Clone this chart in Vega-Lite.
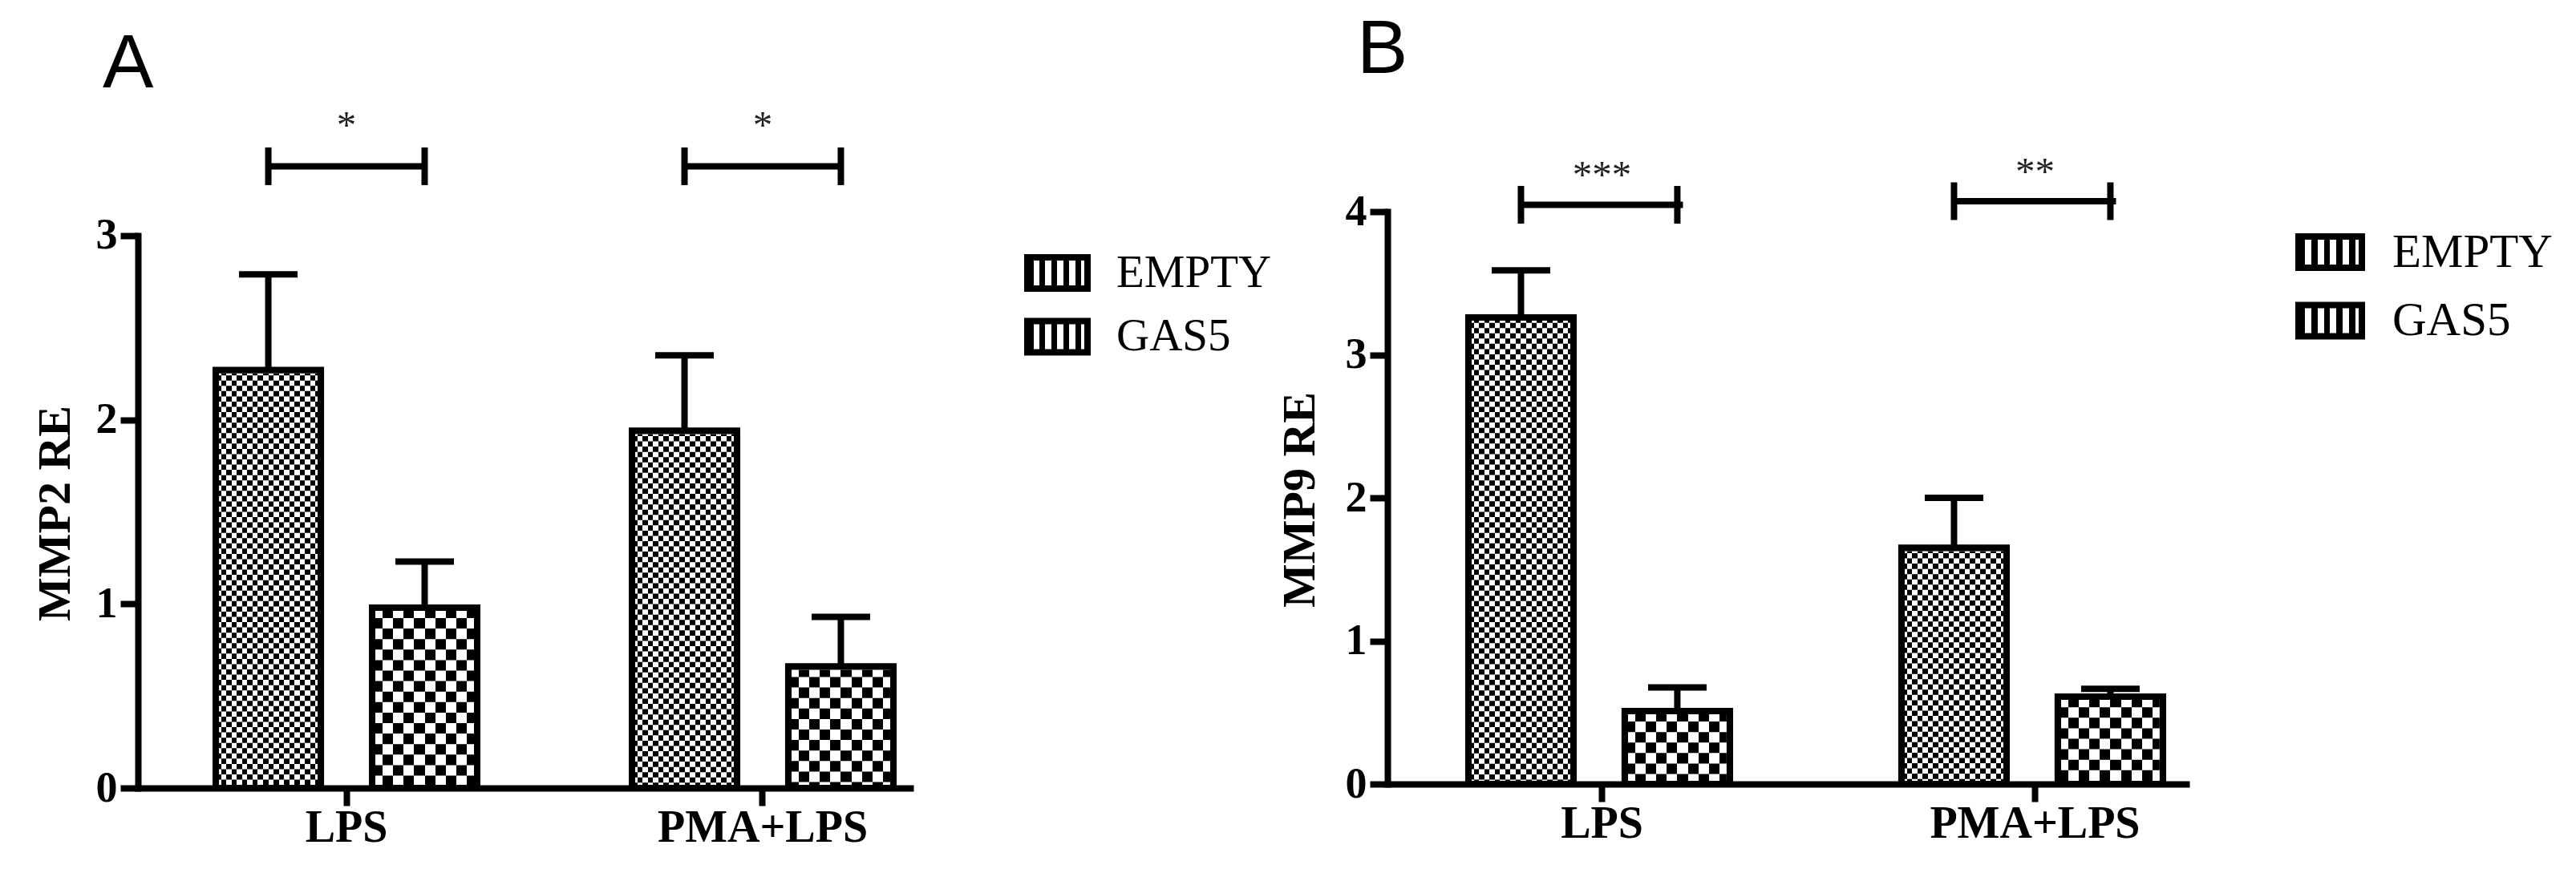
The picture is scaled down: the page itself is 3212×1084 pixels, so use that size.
{
  "$schema": "https://vega.github.io/schema/vega-lite/v6.json",
  "autosize": {"type": "none"},
  "padding": {"left": 172, "top": 264, "right": 3040, "bottom": 820},
  "background": "white",
  "bounds": "flush",
  "spacing": 591,
  "resolve": {"scale": {"stroke": "independent"}, "legend": {"stroke": "independent"}},
  "datasets": {
    "barsA": [
      {"cond": "LPS", "group": "EMPTY", "mean": 2.27, "upper": 2.79},
      {"cond": "LPS", "group": "GAS5", "mean": 0.98, "upper": 1.23},
      {"cond": "PMA+LPS", "group": "EMPTY", "mean": 1.94, "upper": 2.35},
      {"cond": "PMA+LPS", "group": "GAS5", "mean": 0.66, "upper": 0.93}
    ],
    "sigA": [
      {"cond": "LPS", "level": 3.377, "label": "*"},
      {"cond": "PMA+LPS", "level": 3.377, "label": "*"}
    ],
    "endsA": [
      {"cond": "LPS", "group": "EMPTY", "level": 3.377},
      {"cond": "LPS", "group": "GAS5", "level": 3.377},
      {"cond": "PMA+LPS", "group": "EMPTY", "level": 3.377},
      {"cond": "PMA+LPS", "group": "GAS5", "level": 3.377}
    ],
    "barsB": [
      {"cond": "LPS", "group": "EMPTY", "mean": 3.26, "upper": 3.59},
      {"cond": "LPS", "group": "GAS5", "mean": 0.51, "upper": 0.675},
      {"cond": "PMA+LPS", "group": "EMPTY", "mean": 1.65, "upper": 2.0},
      {"cond": "PMA+LPS", "group": "GAS5", "mean": 0.61, "upper": 0.665}
    ],
    "sigB": [
      {"cond": "LPS", "level": 4.048, "label": "***"},
      {"cond": "PMA+LPS", "level": 4.073, "label": "**"}
    ],
    "endsB": [
      {"cond": "LPS", "group": "EMPTY", "level": 4.048},
      {"cond": "LPS", "group": "GAS5", "level": 4.048},
      {"cond": "PMA+LPS", "group": "EMPTY", "level": 4.073},
      {"cond": "PMA+LPS", "group": "GAS5", "level": 4.073}
    ]
  },
  "hconcat": [
    {
      "width": 967,
      "height": 719,
      "title": {"text": "A", "anchor": "start", "frame": "group", "font": "Liberation Sans", "fontSize": 95, "fontWeight": "normal", "color": "black", "dx": -44, "offset": 4.5},
      "layer": [
        {
          "data": {"name": "barsA"},
          "mark": {"type": "bar", "strokeWidth": 8},
          "encoding": {
            "x": {"field": "cond", "type": "nominal", "title": null, "sort": ["LPS", "PMA+LPS"], "scale": {"domain": ["LPS", "PMA+LPS"], "paddingInner": 0.3719, "paddingOuter": 0.1176, "align": 0.795}, "axis": {"labelAngle": 0, "labelLimit": 0}},
            "xOffset": {"field": "group", "type": "nominal", "scale": {"domain": ["EMPTY", "GAS5"], "paddingInner": 0.328, "paddingOuter": 0}},
            "y": {"field": "mean", "type": "quantitative", "title": "MMP2 RE", "scale": {"domain": [0, 3.1306], "nice": false, "zero": true}, "axis": {"values": [0, 1, 2, 3], "format": "d", "domainDash": [689, 200], "titleX": -85.5, "titleY": 376}},
            "fill": {
              "condition": {"test": "datum.group === 'EMPTY'", "value": {"gradient": "linear", "x1": 0, "y1": 0, "x2": 1, "y2": 0, "stops": [
                {"offset": 0, "color": "black"}, {"offset": 0.05, "color": "black"}, {"offset": 0.05, "color": "white"}, {"offset": 0.1, "color": "white"},
                {"offset": 0.1, "color": "black"}, {"offset": 0.15, "color": "black"}, {"offset": 0.15, "color": "white"}, {"offset": 0.2, "color": "white"},
                {"offset": 0.2, "color": "black"}, {"offset": 0.25, "color": "black"}, {"offset": 0.25, "color": "white"}, {"offset": 0.3, "color": "white"},
                {"offset": 0.3, "color": "black"}, {"offset": 0.35, "color": "black"}, {"offset": 0.35, "color": "white"}, {"offset": 0.4, "color": "white"},
                {"offset": 0.4, "color": "black"}, {"offset": 0.45, "color": "black"}, {"offset": 0.45, "color": "white"}, {"offset": 0.5, "color": "white"},
                {"offset": 0.5, "color": "black"}, {"offset": 0.55, "color": "black"}, {"offset": 0.55, "color": "white"}, {"offset": 0.6, "color": "white"},
                {"offset": 0.6, "color": "black"}, {"offset": 0.65, "color": "black"}, {"offset": 0.65, "color": "white"}, {"offset": 0.7, "color": "white"},
                {"offset": 0.7, "color": "black"}, {"offset": 0.75, "color": "black"}, {"offset": 0.75, "color": "white"}, {"offset": 0.8, "color": "white"},
                {"offset": 0.8, "color": "black"}, {"offset": 0.85, "color": "black"}, {"offset": 0.85, "color": "white"}, {"offset": 0.9, "color": "white"},
                {"offset": 0.9, "color": "black"}, {"offset": 0.95, "color": "black"}, {"offset": 0.95, "color": "white"}, {"offset": 1, "color": "white"}]}},
              "value": {"gradient": "linear", "x1": 0, "y1": 0, "x2": 1, "y2": 0, "stops": [
                {"offset": 0, "color": "black"}, {"offset": 0.1, "color": "black"}, {"offset": 0.1, "color": "white"}, {"offset": 0.2, "color": "white"},
                {"offset": 0.2, "color": "black"}, {"offset": 0.3, "color": "black"}, {"offset": 0.3, "color": "white"}, {"offset": 0.4, "color": "white"},
                {"offset": 0.4, "color": "black"}, {"offset": 0.5, "color": "black"}, {"offset": 0.5, "color": "white"}, {"offset": 0.6, "color": "white"},
                {"offset": 0.6, "color": "black"}, {"offset": 0.7, "color": "black"}, {"offset": 0.7, "color": "white"}, {"offset": 0.8, "color": "white"},
                {"offset": 0.8, "color": "black"}, {"offset": 0.9, "color": "black"}, {"offset": 0.9, "color": "white"}, {"offset": 1, "color": "white"}]}
            },
            "stroke": {"field": "group", "type": "nominal", "scale": {"domain": ["EMPTY", "GAS5"], "range": ["black", "black"]},
              "legend": {"title": null, "orient": "none", "legendX": 1105, "legendY": 48, "padding": 0,
                "symbolType": "M-1,-0.52L1,-0.52L1,0.52L-1,0.52Z", "symbolSize": 5625, "symbolStrokeWidth": 8, "symbolStrokeColor": "black",
                "labelFont": "Liberation Serif", "labelFontSize": 57, "labelColor": "black", "labelOffset": 32, "labelLimit": 0,
                "rowPadding": 21.5, "clipHeight": 57,
                "encode": {"symbols": {"fill": {
                  "condition": {"test": "datum.value === 'EMPTY'", "value": {"gradient": "linear", "x1": 0, "y1": 0, "x2": 1, "y2": 0, "stops": [
                    {"offset": 0, "color": "black"}, {"offset": 0.1, "color": "black"}, {"offset": 0.1, "color": "white"}, {"offset": 0.2, "color": "white"},
                    {"offset": 0.2, "color": "black"}, {"offset": 0.3, "color": "black"}, {"offset": 0.3, "color": "white"}, {"offset": 0.4, "color": "white"},
                    {"offset": 0.4, "color": "black"}, {"offset": 0.5, "color": "black"}, {"offset": 0.5, "color": "white"}, {"offset": 0.6, "color": "white"},
                    {"offset": 0.6, "color": "black"}, {"offset": 0.7, "color": "black"}, {"offset": 0.7, "color": "white"}, {"offset": 0.8, "color": "white"},
                    {"offset": 0.8, "color": "black"}, {"offset": 0.9, "color": "black"}, {"offset": 0.9, "color": "white"}, {"offset": 1, "color": "white"}]}},
                  "value": "#555555"
                }}}
              }
            }
          }
        },
        {
          "data": {"name": "barsA"},
          "transform": [{"filter": "datum.group === 'EMPTY'"}],
          "mark": {"type": "rule", "stroke": "white", "strokeWidth": 123, "strokeDash": [6.55, 6.55], "blend": "difference"},
          "encoding": {
            "x": {"field": "cond", "type": "nominal", "title": null},
            "xOffset": {"field": "group", "type": "nominal"},
            "y": {"field": "mean", "type": "quantitative", "title": "MMP2 RE"},
            "y2": {"datum": 0}
          }
        },
        {
          "data": {"name": "barsA"},
          "transform": [{"filter": "datum.group === 'GAS5'"}],
          "mark": {"type": "rule", "stroke": "white", "strokeWidth": 123, "strokeDash": [13.1, 13.1], "blend": "difference"},
          "encoding": {
            "x": {"field": "cond", "type": "nominal", "title": null},
            "xOffset": {"field": "group", "type": "nominal"},
            "y": {"field": "mean", "type": "quantitative", "title": "MMP2 RE"},
            "y2": {"datum": 0}
          }
        },
        {
          "data": {"name": "barsA"},
          "mark": {"type": "bar", "filled": false, "stroke": "black", "strokeWidth": 8},
          "encoding": {
            "x": {"field": "cond", "type": "nominal", "title": null},
            "xOffset": {"field": "group", "type": "nominal"},
            "y": {"field": "mean", "type": "quantitative", "title": "MMP2 RE"}
          }
        },
        {
          "data": {"name": "barsA"},
          "mark": {"type": "rule", "color": "black", "strokeWidth": 8, "opacity": 1},
          "encoding": {
            "x": {"field": "cond", "type": "nominal", "title": null},
            "xOffset": {"field": "group", "type": "nominal"},
            "y": {"field": "mean", "type": "quantitative", "title": "MMP2 RE"},
            "y2": {"field": "upper"}
          }
        },
        {
          "data": {"name": "barsA"},
          "mark": {"type": "tick", "color": "black", "opacity": 1, "orient": "horizontal", "size": 73, "thickness": 8},
          "encoding": {
            "x": {"field": "cond", "type": "nominal", "title": null},
            "xOffset": {"field": "group", "type": "nominal"},
            "y": {"field": "upper", "type": "quantitative", "title": "MMP2 RE"}
          }
        },
        {
          "data": {"name": "sigA"},
          "mark": {"type": "tick", "color": "black", "opacity": 1, "orient": "horizontal", "size": 195, "thickness": 8},
          "encoding": {
            "x": {"field": "cond", "type": "nominal", "title": null},
            "y": {"field": "level", "type": "quantitative", "title": "MMP2 RE"}
          }
        },
        {
          "data": {"name": "endsA"},
          "mark": {"type": "tick", "color": "black", "opacity": 1, "orient": "vertical", "size": 47, "thickness": 8},
          "encoding": {
            "x": {"field": "cond", "type": "nominal", "title": null},
            "xOffset": {"field": "group", "type": "nominal"},
            "y": {"field": "level", "type": "quantitative", "title": "MMP2 RE"}
          }
        },
        {
          "data": {"name": "sigA"},
          "mark": {"type": "text", "font": "Liberation Serif", "fontSize": 49, "color": "#222", "opacity": 1, "baseline": "alphabetic", "dy": -35},
          "encoding": {
            "x": {"field": "cond", "type": "nominal", "title": null},
            "y": {"field": "level", "type": "quantitative", "title": "MMP2 RE"},
            "text": {"field": "label"}
          }
        }
      ]
    },
    {
      "width": 1000,
      "height": 714,
      "title": {"text": "B", "anchor": "start", "frame": "group", "font": "Liberation Sans", "fontSize": 95, "fontWeight": "normal", "color": "black", "dx": -38, "offset": 80},
      "layer": [
        {
          "data": {"name": "barsB"},
          "mark": {"type": "bar", "strokeWidth": 8},
          "encoding": {
            "x": {"field": "cond", "type": "nominal", "title": null, "sort": ["LPS", "PMA+LPS"], "scale": {"domain": ["LPS", "PMA+LPS"], "paddingInner": 0.3833, "paddingOuter": 0.1176, "align": 0.795}, "axis": {"labelAngle": 0, "labelLimit": 0}},
            "xOffset": {"field": "group", "type": "nominal", "scale": {"domain": ["EMPTY", "GAS5"], "paddingInner": 0.3515, "paddingOuter": 0}},
            "y": {"field": "mean", "type": "quantitative", "title": "MMP9 RE", "scale": {"domain": [0, 4], "nice": false, "zero": true}, "axis": {"values": [0, 1, 2, 3, 4], "format": "d", "titleX": -92, "titleY": 359}},
            "fill": {
              "condition": {"test": "datum.group === 'EMPTY'", "value": {"gradient": "linear", "x1": 0, "y1": 0, "x2": 1, "y2": 0, "stops": [
                {"offset": 0, "color": "black"}, {"offset": 0.05, "color": "black"}, {"offset": 0.05, "color": "white"}, {"offset": 0.1, "color": "white"},
                {"offset": 0.1, "color": "black"}, {"offset": 0.15, "color": "black"}, {"offset": 0.15, "color": "white"}, {"offset": 0.2, "color": "white"},
                {"offset": 0.2, "color": "black"}, {"offset": 0.25, "color": "black"}, {"offset": 0.25, "color": "white"}, {"offset": 0.3, "color": "white"},
                {"offset": 0.3, "color": "black"}, {"offset": 0.35, "color": "black"}, {"offset": 0.35, "color": "white"}, {"offset": 0.4, "color": "white"},
                {"offset": 0.4, "color": "black"}, {"offset": 0.45, "color": "black"}, {"offset": 0.45, "color": "white"}, {"offset": 0.5, "color": "white"},
                {"offset": 0.5, "color": "black"}, {"offset": 0.55, "color": "black"}, {"offset": 0.55, "color": "white"}, {"offset": 0.6, "color": "white"},
                {"offset": 0.6, "color": "black"}, {"offset": 0.65, "color": "black"}, {"offset": 0.65, "color": "white"}, {"offset": 0.7, "color": "white"},
                {"offset": 0.7, "color": "black"}, {"offset": 0.75, "color": "black"}, {"offset": 0.75, "color": "white"}, {"offset": 0.8, "color": "white"},
                {"offset": 0.8, "color": "black"}, {"offset": 0.85, "color": "black"}, {"offset": 0.85, "color": "white"}, {"offset": 0.9, "color": "white"},
                {"offset": 0.9, "color": "black"}, {"offset": 0.95, "color": "black"}, {"offset": 0.95, "color": "white"}, {"offset": 1, "color": "white"}]}},
              "value": {"gradient": "linear", "x1": 0, "y1": 0, "x2": 1, "y2": 0, "stops": [
                {"offset": 0, "color": "black"}, {"offset": 0.1, "color": "black"}, {"offset": 0.1, "color": "white"}, {"offset": 0.2, "color": "white"},
                {"offset": 0.2, "color": "black"}, {"offset": 0.3, "color": "black"}, {"offset": 0.3, "color": "white"}, {"offset": 0.4, "color": "white"},
                {"offset": 0.4, "color": "black"}, {"offset": 0.5, "color": "black"}, {"offset": 0.5, "color": "white"}, {"offset": 0.6, "color": "white"},
                {"offset": 0.6, "color": "black"}, {"offset": 0.7, "color": "black"}, {"offset": 0.7, "color": "white"}, {"offset": 0.8, "color": "white"},
                {"offset": 0.8, "color": "black"}, {"offset": 0.9, "color": "black"}, {"offset": 0.9, "color": "white"}, {"offset": 1, "color": "white"}]}
            },
            "stroke": {"field": "group", "type": "nominal", "scale": {"domain": ["EMPTY", "GAS5"], "range": ["black", "black"]},
              "legend": {"title": null, "orient": "none", "legendX": 1132, "legendY": 22, "padding": 0,
                "symbolType": "M-1,-0.494L1,-0.494L1,0.494L-1,0.494Z", "symbolSize": 6241, "symbolStrokeWidth": 8, "symbolStrokeColor": "black",
                "labelFont": "Liberation Serif", "labelFontSize": 59, "labelColor": "black", "labelOffset": 34, "labelLimit": 0,
                "rowPadding": 25.5, "clipHeight": 57,
                "encode": {"symbols": {"fill": {
                  "condition": {"test": "datum.value === 'EMPTY'", "value": {"gradient": "linear", "x1": 0, "y1": 0, "x2": 1, "y2": 0, "stops": [
                    {"offset": 0, "color": "black"}, {"offset": 0.1, "color": "black"}, {"offset": 0.1, "color": "white"}, {"offset": 0.2, "color": "white"},
                    {"offset": 0.2, "color": "black"}, {"offset": 0.3, "color": "black"}, {"offset": 0.3, "color": "white"}, {"offset": 0.4, "color": "white"},
                    {"offset": 0.4, "color": "black"}, {"offset": 0.5, "color": "black"}, {"offset": 0.5, "color": "white"}, {"offset": 0.6, "color": "white"},
                    {"offset": 0.6, "color": "black"}, {"offset": 0.7, "color": "black"}, {"offset": 0.7, "color": "white"}, {"offset": 0.8, "color": "white"},
                    {"offset": 0.8, "color": "black"}, {"offset": 0.9, "color": "black"}, {"offset": 0.9, "color": "white"}, {"offset": 1, "color": "white"}]}},
                  "value": "#555555"
                }}}
              }
            }
          }
        },
        {
          "data": {"name": "barsB"},
          "transform": [{"filter": "datum.group === 'EMPTY'"}],
          "mark": {"type": "rule", "stroke": "white", "strokeWidth": 123, "strokeDash": [6.55, 6.55], "blend": "difference"},
          "encoding": {
            "x": {"field": "cond", "type": "nominal", "title": null},
            "xOffset": {"field": "group", "type": "nominal"},
            "y": {"field": "mean", "type": "quantitative", "title": "MMP9 RE"},
            "y2": {"datum": 0}
          }
        },
        {
          "data": {"name": "barsB"},
          "transform": [{"filter": "datum.group === 'GAS5'"}],
          "mark": {"type": "rule", "stroke": "white", "strokeWidth": 123, "strokeDash": [13.1, 13.1], "blend": "difference"},
          "encoding": {
            "x": {"field": "cond", "type": "nominal", "title": null},
            "xOffset": {"field": "group", "type": "nominal"},
            "y": {"field": "mean", "type": "quantitative", "title": "MMP9 RE"},
            "y2": {"datum": 0}
          }
        },
        {
          "data": {"name": "barsB"},
          "mark": {"type": "bar", "filled": false, "stroke": "black", "strokeWidth": 8},
          "encoding": {
            "x": {"field": "cond", "type": "nominal", "title": null},
            "xOffset": {"field": "group", "type": "nominal"},
            "y": {"field": "mean", "type": "quantitative", "title": "MMP9 RE"}
          }
        },
        {
          "data": {"name": "barsB"},
          "mark": {"type": "rule", "color": "black", "strokeWidth": 8, "opacity": 1},
          "encoding": {
            "x": {"field": "cond", "type": "nominal", "title": null},
            "xOffset": {"field": "group", "type": "nominal"},
            "y": {"field": "mean", "type": "quantitative", "title": "MMP9 RE"},
            "y2": {"field": "upper"}
          }
        },
        {
          "data": {"name": "barsB"},
          "mark": {"type": "tick", "color": "black", "opacity": 1, "orient": "horizontal", "size": 73, "thickness": 8},
          "encoding": {
            "x": {"field": "cond", "type": "nominal", "title": null},
            "xOffset": {"field": "group", "type": "nominal"},
            "y": {"field": "upper", "type": "quantitative", "title": "MMP9 RE"}
          }
        },
        {
          "data": {"name": "sigB"},
          "mark": {"type": "tick", "color": "black", "opacity": 1, "orient": "horizontal", "size": 202, "thickness": 8},
          "encoding": {
            "x": {"field": "cond", "type": "nominal", "title": null},
            "y": {"field": "level", "type": "quantitative", "title": "MMP9 RE"}
          }
        },
        {
          "data": {"name": "endsB"},
          "mark": {"type": "tick", "color": "black", "opacity": 1, "orient": "vertical", "size": 47, "thickness": 8},
          "encoding": {
            "x": {"field": "cond", "type": "nominal", "title": null},
            "xOffset": {"field": "group", "type": "nominal"},
            "y": {"field": "level", "type": "quantitative", "title": "MMP9 RE"}
          }
        },
        {
          "data": {"name": "sigB"},
          "mark": {"type": "text", "font": "Liberation Serif", "fontSize": 49, "color": "#222", "opacity": 1, "baseline": "alphabetic", "dy": -21},
          "encoding": {
            "x": {"field": "cond", "type": "nominal", "title": null},
            "y": {"field": "level", "type": "quantitative", "title": "MMP9 RE"},
            "text": {"field": "label"}
          }
        }
      ]
    }
  ],
  "config": {
    "view": {"stroke": null},
    "font": "Liberation Serif",
    "axisX": {"domainColor": "black", "domainWidth": 8, "domainCap": "butt", "tickColor": "black", "tickWidth": 8, "tickSize": 22, "labelFont": "Liberation Serif", "labelFontWeight": "bold", "labelFontSize": 56, "labelColor": "black", "labelPadding": 0, "grid": false},
    "axisY": {"domainColor": "black", "domainWidth": 8, "domainCap": "square", "tickColor": "black", "tickWidth": 8, "tickSize": 22, "labelFont": "Liberation Serif", "labelFontWeight": "bold", "labelFontSize": 54, "labelColor": "black", "labelPadding": 4, "grid": false, "titleFont": "Liberation Serif", "titleFontWeight": "bold", "titleFontSize": 58, "titleColor": "black", "titleBaseline": "alphabetic", "titleAngle": 270, "titleAlign": "center"}
  }
}
